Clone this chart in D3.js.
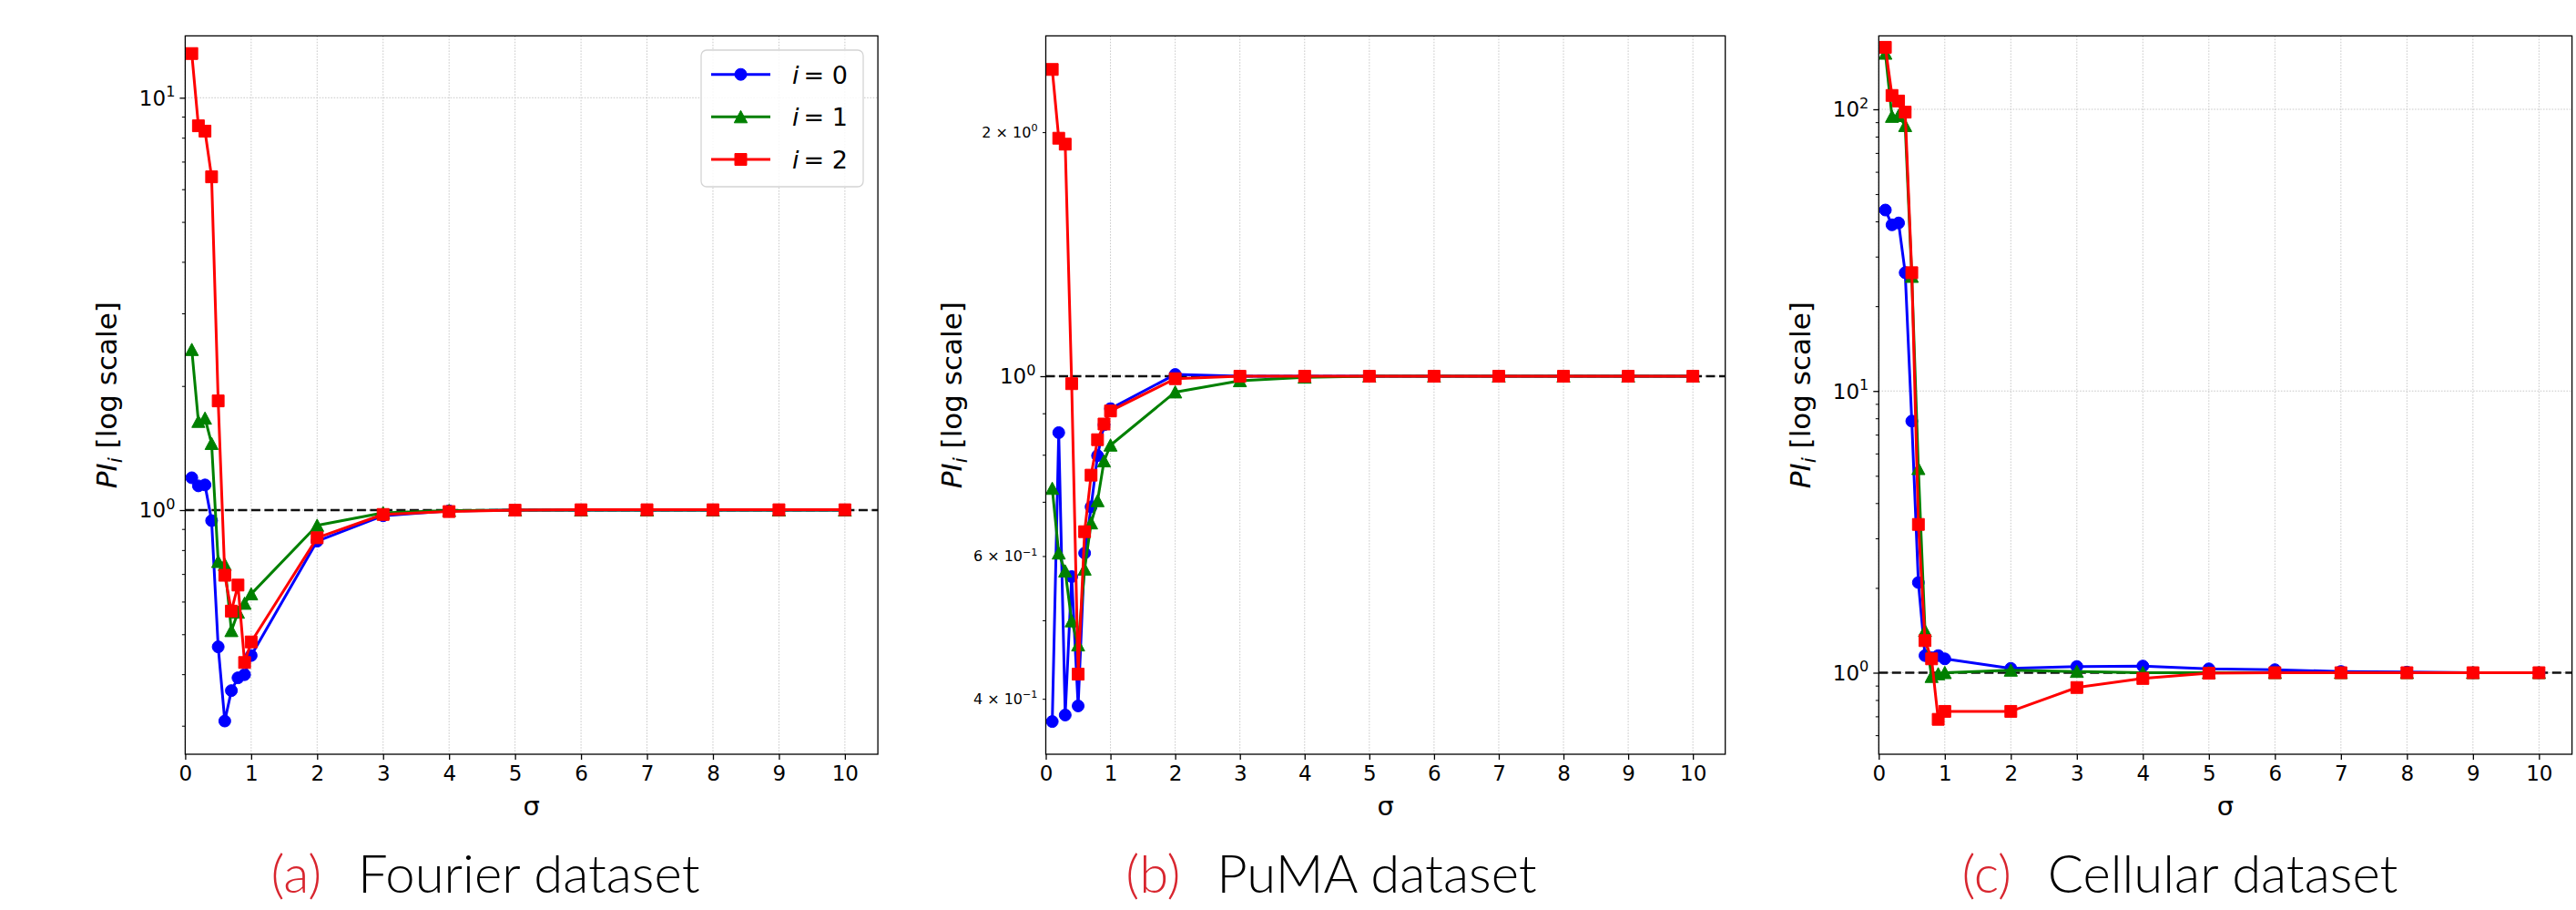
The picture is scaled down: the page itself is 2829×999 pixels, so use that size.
<!DOCTYPE html>
<html>
<head>
<meta charset="utf-8">
<script src="https://cdn.jsdelivr.net/npm/d3@7"></script>
<style>
  html, body { margin: 0; padding: 0; background: #ffffff; }
  svg { display: block; }
</style>
</head>
<body>
<svg id="fig" width="2829" height="999"></svg>
<script>
// ---- data -------------------------------------------------------------
const sigma = [0.1, 0.2, 0.3, 0.4, 0.5, 0.6, 0.7, 0.8, 0.9, 1, 2, 3, 4, 5, 6, 7, 8, 9, 10];

const fourierI0 = [1.198, 1.145, 1.151, 0.943, 0.466, 0.308, 0.365, 0.392, 0.399, 0.444, 0.841, 0.969, 0.996, 1.0, 1.0, 1.0, 1.0, 1.0, 1.0];
const fourierI1 = [2.45, 1.64, 1.67, 1.45, 0.750, 0.738, 0.510, 0.565, 0.594, 0.626, 0.918, 0.985, 0.997, 1.0, 1.0, 1.0, 1.0, 1.0, 1.0];
const fourierI2 = [12.8, 8.55, 8.30, 6.43, 1.84, 0.695, 0.569, 0.658, 0.427, 0.479, 0.857, 0.976, 0.992, 1.0, 1.002, 1.002, 1.002, 1.002, 1.002];

const pumaI0 = [0.375, 0.852, 0.382, 0.566, 0.392, 0.605, 0.690, 0.798, 0.871, 0.912, 1.005, 1.0, 1.0, 1.0, 1.0, 1.0, 1.0, 1.0, 1.0];
const pumaI1 = [0.727, 0.605, 0.575, 0.499, 0.466, 0.578, 0.659, 0.702, 0.786, 0.822, 0.956, 0.987, 0.997, 1.0, 1.0, 1.0, 1.0, 1.0, 1.0];
const pumaI2 = [2.39, 1.966, 1.933, 0.979, 0.429, 0.643, 0.755, 0.835, 0.873, 0.906, 0.993, 1.0, 1.0, 1.0, 1.0, 1.0, 1.0, 1.0, 1.0];

const cellularI0 = [43.9, 38.9, 39.5, 26.3, 7.82, 2.09, 1.15, 1.13, 1.15, 1.12, 1.036, 1.052, 1.056, 1.032, 1.025, 1.01, 1.005, 1.0, 1.0];
const cellularI1 = [158, 94.3, 95, 87.5, 25.5, 5.3, 1.41, 0.969, 0.99, 1.0, 1.02, 1.01, 1.0, 1.0, 1.0, 1.0, 1.0, 1.0, 1.0];
const cellularI2 = [166, 112, 107, 97.7, 26.3, 3.36, 1.30, 1.12, 0.683, 0.729, 0.729, 0.886, 0.954, 0.996, 1.0, 1.0, 1.0, 1.0, 1.0];

const xTickValues = [0, 1, 2, 3, 4, 5, 6, 7, 8, 9, 10];
const seriesIndex = ["0", "1", "2"];
const captionTags = ["(a)", "(b)", "(c)"];
const captionNames = ["Fourier dataset", "PuMA dataset", "Cellular dataset"];
const fourierMajorTicks = [1, 10];
const pumaMajorTicks = [1];
const pumaMinorLabelTicks = [0.4, 0.6, 2];
const cellularMajorTicks = [1, 10, 100];

// ---- styling ----------------------------------------------------------
const seriesColors = ["#0000ff", "#008000", "#ff0000"];
const seriesMarkers = ["circle", "triangle", "square"];
const tickFont = "'DejaVu Sans', sans-serif";
const captionRed = "#d8262f";

const svg = d3.select("#fig");

// panel frames (pixel layout) and log limits of each y axis
const panels = [
  { series: [fourierI0, fourierI1, fourierI2], left: 203.4, right: 964.1, top: 39.4, bottom: 828,
    yLim: [Math.pow(10, -0.592), Math.pow(10, 1.150)], major: fourierMajorTicks, minorLabels: [],
    ylabelOffset: 75.5, captionX: 533, legend: true },
  { series: [pumaI0, pumaI1, pumaI2], left: 1148.5, right: 1894.7, top: 39.4, bottom: 828,
    yLim: [Math.pow(10, -0.4663), Math.pow(10, 0.4198)], major: pumaMajorTicks, minorLabels: pumaMinorLabelTicks,
    ylabelOffset: 93, captionX: 1462, legend: false },
  { series: [cellularI0, cellularI1, cellularI2], left: 2063.3, right: 2824.6, top: 39.4, bottom: 828,
    yLim: [Math.pow(10, -0.2894), Math.pow(10, 2.2606)], major: cellularMajorTicks, minorLabels: [],
    ylabelOffset: 75.5, captionX: 2394, legend: false }
];

function markerPath(kind) {
  if (kind === "circle") return d3.symbol(d3.symbolCircle, Math.PI * 6.5 * 6.5)();
  if (kind === "square") return "M-6.5,-6.5H6.5V6.5H-6.5Z";
  // upward triangle centred on its bounding box
  return "M0,-7L7.2,6.5H-7.2Z";
}

function expText(e) { return e < 0 ? "\u2212" + Math.abs(e) : String(e); }

// "10^k" or "m × 10^k" tick label with a raised exponent
function sciLabel(g, value, x, y, size, withMantissa) {
  const k = Math.floor(Math.log10(value) + 1e-9);
  const m = Math.round(value / Math.pow(10, k));
  const t = g.append("text")
    .attr("x", x).attr("y", y)
    .attr("text-anchor", "end")
    .attr("font-family", tickFont)
    .attr("font-size", size)
    .attr("fill", "#000");
  t.append("tspan").text(withMantissa ? m + " \u00d7 10" : "10");
  t.append("tspan").attr("font-size", size * 0.7).attr("dy", -size * 0.42).text(expText(k));
}

panels.forEach((p, pi) => {
  const g = svg.append("g");
  const x = d3.scaleLinear().domain([0, 10.5]).range([p.left, p.right]);
  const y = d3.scaleLog().domain(p.yLim).range([p.bottom, p.top]);

  // minor tick values inside the limits
  const minor = [];
  for (let k = Math.floor(Math.log10(p.yLim[0])); k <= Math.ceil(Math.log10(p.yLim[1])); k++) {
    for (let m = 2; m <= 9; m++) {
      const v = m * Math.pow(10, k);
      if (v >= p.yLim[0] && v <= p.yLim[1]) minor.push(v);
    }
  }

  // grid
  const grid = g.append("g").attr("stroke", "#c8c8c8").attr("stroke-width", 1)
    .attr("stroke-dasharray", "1.6,1.6");
  grid.selectAll("line.vx").data(xTickValues).join("line")
    .attr("x1", d => x(d)).attr("x2", d => x(d))
    .attr("y1", p.top).attr("y2", p.bottom);
  grid.selectAll("line.hy").data(p.major).join("line")
    .attr("x1", p.left).attr("x2", p.right)
    .attr("y1", d => y(d)).attr("y2", d => y(d));

  // reference level at PI = 1
  g.append("line")
    .attr("x1", p.left).attr("x2", p.right)
    .attr("y1", y(1)).attr("y2", y(1))
    .attr("stroke", "#111").attr("stroke-width", 2.6)
    .attr("stroke-dasharray", "10,4.5");

  // series
  p.series.forEach((vals, si) => {
    const pts = sigma.map((s, i) => [s, vals[i]]);
    const line = d3.line().x(d => x(d[0])).y(d => y(d[1]));
    const sg = g.append("g");
    sg.append("path").datum(pts)
      .attr("d", line)
      .attr("fill", "none")
      .attr("stroke", seriesColors[si])
      .attr("stroke-width", 3)
      .attr("stroke-linejoin", "round");
    sg.selectAll("path.mk").data(pts).join("path")
      .attr("class", "mk")
      .attr("d", markerPath(seriesMarkers[si]))
      .attr("transform", d => `translate(${x(d[0])},${y(d[1])})`)
      .attr("fill", seriesColors[si])
      .attr("stroke", seriesColors[si])
      .attr("stroke-width", 1);
  });

  // axes: ticks via d3 axes, labels added with exponents
  const xAxis = d3.axisBottom(x).tickValues(xTickValues).tickSize(6).tickPadding(5)
    .tickFormat(d3.format("d"));
  const xa = g.append("g").attr("transform", `translate(0,${p.bottom})`).call(xAxis);
  xa.select(".domain").remove();
  xa.selectAll(".tick line").attr("stroke", "#000").attr("stroke-width", 1.3);
  xa.selectAll(".tick text").attr("font-family", tickFont).attr("font-size", 23)
    .attr("fill", "#000").attr("dy", "0.78em");

  const yMajor = d3.axisLeft(y).tickValues(p.major).tickSize(6).tickFormat("");
  const ya = g.append("g").attr("transform", `translate(${p.left},0)`).call(yMajor);
  ya.select(".domain").remove();
  ya.selectAll(".tick line").attr("stroke", "#000").attr("stroke-width", 1.3);

  const yMinor = d3.axisLeft(y).tickValues(minor).tickSize(3.5).tickFormat("");
  const ym = g.append("g").attr("transform", `translate(${p.left},0)`).call(yMinor);
  ym.select(".domain").remove();
  ym.selectAll(".tick line").attr("stroke", "#000").attr("stroke-width", 1);

  const labels = g.append("g");
  p.major.forEach(v => sciLabel(labels, v, p.left - 11, y(v) + 8.4, 23, false));
  p.minorLabels.forEach(v => sciLabel(labels, v, p.left - 9, y(v) + 5.8, 16, true));

  // frame
  g.append("rect")
    .attr("x", p.left).attr("y", p.top)
    .attr("width", p.right - p.left).attr("height", p.bottom - p.top)
    .attr("fill", "none").attr("stroke", "#000").attr("stroke-width", 1.3);

  // axis titles
  g.append("text")
    .attr("x", (p.left + p.right) / 2).attr("y", 895)
    .attr("text-anchor", "middle")
    .attr("font-family", tickFont).attr("font-size", 29)
    .text("\u03c3");

  const yl = g.append("text")
    .attr("transform", `translate(${p.left - p.ylabelOffset},${(p.top + p.bottom) / 2}) rotate(-90)`)
    .attr("text-anchor", "middle")
    .attr("font-family", tickFont).attr("font-size", 31);
  yl.append("tspan").attr("font-style", "italic").text("PI");
  yl.append("tspan").attr("font-style", "italic").attr("font-size", 22).attr("dy", 6).text("i");
  yl.append("tspan").attr("dy", -6).text(" [log scale]");

  // caption
  const cap = svg.append("text")
    .attr("x", p.captionX).attr("y", 980)
    .attr("text-anchor", "middle")
    .attr("font-family", "Lato, 'Open Sans', sans-serif")
    .attr("font-weight", 300)
    .attr("font-size", 58);
  cap.append("tspan").attr("fill", captionRed).text(captionTags[pi]);
  cap.append("tspan").attr("fill", "#000").attr("dx", 24).text(" " + captionNames[pi]);

  // legend
  if (p.legend) {
    const lg = g.append("g");
    lg.append("rect")
      .attr("x", 770).attr("y", 55).attr("width", 178).attr("height", 150)
      .attr("rx", 6).attr("ry", 6)
      .attr("fill", "#ffffff").attr("fill-opacity", 0.85)
      .attr("stroke", "#d4d4d4").attr("stroke-width", 1.3);
    const rows = [81.7, 128.3, 175];
    seriesIndex.forEach((lab, si) => {
      const ry = rows[si];
      lg.append("line").attr("x1", 781).attr("x2", 846).attr("y1", ry).attr("y2", ry)
        .attr("stroke", seriesColors[si]).attr("stroke-width", 3);
      lg.append("path").attr("d", markerPath(seriesMarkers[si]))
        .attr("transform", `translate(813.5,${ry})`)
        .attr("fill", seriesColors[si]).attr("stroke", seriesColors[si]).attr("stroke-width", 1);
      const t = lg.append("text").attr("x", 870).attr("y", ry + 10)
        .attr("font-family", tickFont).attr("font-size", 27).attr("fill", "#000");
      t.append("tspan").attr("font-style", "italic").text("i");
      t.append("tspan").attr("dx", 5).text("= " + lab);
    });
  }
});
</script>
</body>
</html>
